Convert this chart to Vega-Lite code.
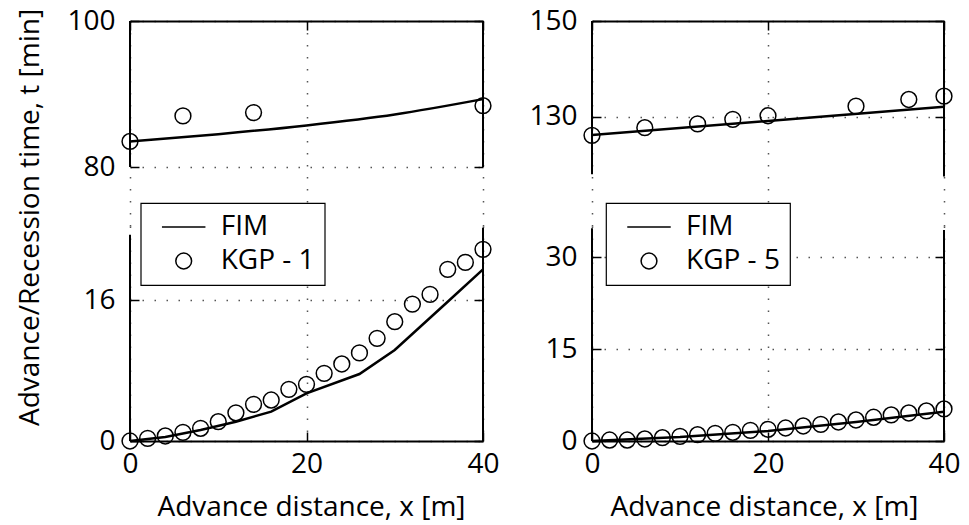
{
  "$schema": "https://vega.github.io/schema/vega-lite/v6.json",
  "background": "white",
  "padding": {"left": 15, "top": 7, "right": 5, "bottom": 90},
  "columns": 2,
  "spacing": {"row": 0, "column": 109},
  "bounds": "flush",
  "resolve": {"scale": {"shape": "independent"}, "legend": {"shape": "independent"}},
  "datasets": {
    "fim1u": [{"x": 0, "t": 83.5}, {"x": 10, "t": 84.5}, {"x": 20, "t": 85.7}, {"x": 30, "t": 87.2}, {"x": 40, "t": 89.3}],
    "kgp1u": [{"x": 0, "t": 83.5}, {"x": 6, "t": 87.0}, {"x": 14, "t": 87.45}, {"x": 40, "t": 88.4}],
    "fim1l": [{"x": 0, "t": 0}, {"x": 4, "t": 0.45}, {"x": 8, "t": 1.25}, {"x": 12, "t": 2.19}, {"x": 16, "t": 3.33}, {"x": 20, "t": 5.41}, {"x": 26, "t": 7.6}, {"x": 30, "t": 10.33}, {"x": 36, "t": 15.8}, {"x": 40, "t": 19.48}],
    "kgp1l": [
      {"x": 0, "t": 0, "series": "KGP - 1"}, {"x": 2, "t": 0.3, "series": "KGP - 1"}, {"x": 4, "t": 0.57, "series": "KGP - 1"},
      {"x": 6, "t": 0.98, "series": "KGP - 1"}, {"x": 8, "t": 1.44, "series": "KGP - 1"}, {"x": 10, "t": 2.19, "series": "KGP - 1"},
      {"x": 12, "t": 3.2, "series": "KGP - 1"}, {"x": 14, "t": 4.16, "series": "KGP - 1"}, {"x": 16, "t": 4.65, "series": "KGP - 1"},
      {"x": 18, "t": 5.86, "series": "KGP - 1"}, {"x": 20, "t": 6.43, "series": "KGP - 1"}, {"x": 22, "t": 7.68, "series": "KGP - 1"},
      {"x": 24, "t": 8.74, "series": "KGP - 1"}, {"x": 26, "t": 10.0, "series": "KGP - 1"}, {"x": 28, "t": 11.65, "series": "KGP - 1"},
      {"x": 30, "t": 13.54, "series": "KGP - 1"}, {"x": 32, "t": 15.54, "series": "KGP - 1"}, {"x": 34, "t": 16.64, "series": "KGP - 1"},
      {"x": 36, "t": 19.48, "series": "KGP - 1"}, {"x": 38, "t": 20.27, "series": "KGP - 1"}, {"x": 40, "t": 21.75, "series": "KGP - 1"}
    ],
    "fim5u": [{"x": 0, "t": 126.2}, {"x": 20, "t": 129.1}, {"x": 40, "t": 132.1}],
    "kgp5u": [{"x": 0, "t": 126.1}, {"x": 6, "t": 127.7}, {"x": 12, "t": 128.5}, {"x": 16, "t": 129.45}, {"x": 20, "t": 130.2}, {"x": 30, "t": 132.2}, {"x": 36, "t": 133.6}, {"x": 40, "t": 134.3}],
    "fim5l": [{"x": 0, "t": 0}, {"x": 10, "t": 0.65}, {"x": 20, "t": 1.63}, {"x": 30, "t": 3.1}, {"x": 40, "t": 4.79}],
    "kgp5l": [
      {"x": 0, "t": 0, "series": "KGP - 5"}, {"x": 2, "t": 0.16, "series": "KGP - 5"}, {"x": 4, "t": 0.16, "series": "KGP - 5"},
      {"x": 6, "t": 0.33, "series": "KGP - 5"}, {"x": 8, "t": 0.54, "series": "KGP - 5"}, {"x": 10, "t": 0.76, "series": "KGP - 5"},
      {"x": 12, "t": 1.03, "series": "KGP - 5"}, {"x": 14, "t": 1.25, "series": "KGP - 5"}, {"x": 16, "t": 1.42, "series": "KGP - 5"},
      {"x": 18, "t": 1.74, "series": "KGP - 5"}, {"x": 20, "t": 1.91, "series": "KGP - 5"}, {"x": 22, "t": 2.12, "series": "KGP - 5"},
      {"x": 24, "t": 2.45, "series": "KGP - 5"}, {"x": 26, "t": 2.72, "series": "KGP - 5"}, {"x": 28, "t": 3.1, "series": "KGP - 5"},
      {"x": 30, "t": 3.43, "series": "KGP - 5"}, {"x": 32, "t": 3.87, "series": "KGP - 5"}, {"x": 34, "t": 4.25, "series": "KGP - 5"},
      {"x": 36, "t": 4.57, "series": "KGP - 5"}, {"x": 38, "t": 4.9, "series": "KGP - 5"}, {"x": 40, "t": 5.23, "series": "KGP - 5"}
    ]
  },
  "concat": [
    {
      "width": 353, "height": 205,
      "layer": [
        {"data": {"values": [{}]}, "mark": {"type": "rule", "stroke": "black", "strokeWidth": 2},
         "encoding": {
           "x": {"datum": 0, "type": "quantitative", "scale": {"domain": [0, 40], "nice": false}, "axis": {"orient": "top", "values": [0, 20, 40], "title": null}},
           "y": {"datum": 80, "type": "quantitative", "scale": {"domain": [71.92, 100], "nice": false, "zero": false},
                 "axis": {"orient": "left", "values": [80, 100], "title": "Advance/Recession time, t [min]", "titleX": -92, "titleY": 196, "titleAngle": -90, "titleBaseline": "alphabetic", "titleAlign": "center"}},
           "y2": {"datum": 100}}},
        {"data": {"values": [{}]}, "mark": {"type": "rule", "stroke": "black", "strokeWidth": 2},
         "encoding": {
           "x": {"datum": 40, "type": "quantitative", "scale": {"domain": [0, 40], "nice": false}},
           "y": {"datum": 80, "type": "quantitative", "scale": {"domain": [71.92, 100], "nice": false, "zero": false}, "axis": {"orient": "right", "values": [80, 100], "title": null}},
           "y2": {"datum": 100}}},
        {"data": {"name": "fim1u"}, "mark": {"type": "line", "stroke": "black", "strokeWidth": 2.5, "interpolate": "monotone"},
         "encoding": {
           "x": {"field": "x", "type": "quantitative", "title": null, "scale": {"domain": [0, 40], "nice": false}},
           "y": {"field": "t", "type": "quantitative", "axis": null, "scale": {"domain": [71.92, 100], "nice": false, "zero": false}}}},
        {"data": {"name": "kgp1u"}, "mark": {"type": "point", "shape": "circle", "filled": false, "stroke": "black", "strokeWidth": 1.5, "size": 250, "opacity": 1},
         "encoding": {
           "x": {"field": "x", "type": "quantitative", "title": null, "scale": {"domain": [0, 40], "nice": false}},
           "y": {"field": "t", "type": "quantitative", "axis": null, "scale": {"domain": [71.92, 100], "nice": false, "zero": false}}}}
      ],
      "resolve": {"axis": {"y": "independent"}}
    },
    {
      "width": 352, "height": 205,
      "layer": [
        {"data": {"values": [{}]}, "mark": {"type": "rule", "stroke": "black", "strokeWidth": 2},
         "encoding": {
           "x": {"datum": 0, "type": "quantitative", "scale": {"domain": [0, 40], "nice": false}, "axis": {"orient": "top", "values": [0, 20, 40], "title": null}},
           "y": {"datum": 118, "type": "quantitative", "scale": {"domain": [107.16, 150], "nice": false, "zero": false}, "axis": {"orient": "left", "values": [130, 150], "title": null}},
           "y2": {"datum": 150}}},
        {"data": {"values": [{}]}, "mark": {"type": "rule", "stroke": "black", "strokeWidth": 2},
         "encoding": {
           "x": {"datum": 40, "type": "quantitative", "scale": {"domain": [0, 40], "nice": false}},
           "y": {"datum": 117.5, "type": "quantitative", "scale": {"domain": [107.16, 150], "nice": false, "zero": false}, "axis": {"orient": "right", "values": [130, 150], "title": null}},
           "y2": {"datum": 150}}},
        {"data": {"name": "fim5u"}, "mark": {"type": "line", "stroke": "black", "strokeWidth": 2.5},
         "encoding": {
           "x": {"field": "x", "type": "quantitative", "title": null, "scale": {"domain": [0, 40], "nice": false}},
           "y": {"field": "t", "type": "quantitative", "axis": null, "scale": {"domain": [107.16, 150], "nice": false, "zero": false}}}},
        {"data": {"name": "kgp5u"}, "mark": {"type": "point", "shape": "circle", "filled": false, "stroke": "black", "strokeWidth": 1.5, "size": 250, "opacity": 1},
         "encoding": {
           "x": {"field": "x", "type": "quantitative", "title": null, "scale": {"domain": [0, 40], "nice": false}},
           "y": {"field": "t", "type": "quantitative", "axis": null, "scale": {"domain": [107.16, 150], "nice": false, "zero": false}}}}
      ],
      "resolve": {"axis": {"y": "independent"}}
    },
    {
      "width": 353, "height": 215,
      "layer": [
        {"data": {"values": [{}]}, "mark": {"type": "rule", "stroke": "black", "strokeWidth": 2},
         "encoding": {
           "x": {"datum": 0, "type": "quantitative", "title": "Advance distance, x [m]", "scale": {"domain": [0, 40], "nice": false}, "axis": {"orient": "bottom", "values": [0, 20, 40], "title": "Advance distance, x [m]", "titleX": 181, "titleY": 74, "titleBaseline": "alphabetic"}},
           "y": {"datum": 0, "type": "quantitative", "scale": {"domain": [0, 24.4], "nice": false}, "axis": {"orient": "left", "values": [0, 16], "title": null}},
           "y2": {"datum": 23.4}}},
        {"data": {"values": [{}]}, "mark": {"type": "rule", "stroke": "black", "strokeWidth": 2},
         "encoding": {
           "x": {"datum": 40, "type": "quantitative", "title": "Advance distance, x [m]", "scale": {"domain": [0, 40], "nice": false}},
           "y": {"datum": 0, "type": "quantitative", "scale": {"domain": [0, 24.4], "nice": false}, "axis": {"orient": "right", "values": [0, 16], "title": null}},
           "y2": {"datum": 24.2}}},
        {"data": {"name": "fim1l"}, "mark": {"type": "line", "stroke": "black", "strokeWidth": 2.5},
         "encoding": {
           "x": {"field": "x", "type": "quantitative", "title": "Advance distance, x [m]", "scale": {"domain": [0, 40], "nice": false}},
           "y": {"field": "t", "type": "quantitative", "axis": null, "scale": {"domain": [0, 24.4], "nice": false}}}},
        {"data": {"name": "kgp1l"}, "mark": {"type": "point", "filled": false, "stroke": "black", "strokeWidth": 1.5, "size": 250, "opacity": 1},
         "encoding": {
           "x": {"field": "x", "type": "quantitative", "title": "Advance distance, x [m]", "scale": {"domain": [0, 40], "nice": false}},
           "y": {"field": "t", "type": "quantitative", "axis": null, "scale": {"domain": [0, 24.4], "nice": false}},
           "shape": {"field": "series", "type": "nominal", "scale": {"domain": ["FIM", "KGP - 1"], "range": ["M-2.75,0H2.75", "circle"]},
                     "legend": {"orient": "none", "legendX": 10.7, "legendY": -23, "title": null}}}}
      ],
      "resolve": {"axis": {"y": "independent"}}
    },
    {
      "width": 352, "height": 215,
      "layer": [
        {"data": {"values": [{}]}, "mark": {"type": "rule", "stroke": "black", "strokeWidth": 2},
         "encoding": {
           "x": {"datum": 0, "type": "quantitative", "title": "Advance distance, x [m]", "scale": {"domain": [0, 40], "nice": false}, "axis": {"orient": "bottom", "values": [0, 20, 40], "title": "Advance distance, x [m]", "titleX": 172, "titleY": 74, "titleBaseline": "alphabetic"}},
           "y": {"datum": 0, "type": "quantitative", "scale": {"domain": [0, 35.07], "nice": false}, "axis": {"orient": "left", "values": [0, 15, 30], "title": null}},
           "y2": {"datum": 34.7}}},
        {"data": {"values": [{}]}, "mark": {"type": "rule", "stroke": "black", "strokeWidth": 2},
         "encoding": {
           "x": {"datum": 40, "type": "quantitative", "title": "Advance distance, x [m]", "scale": {"domain": [0, 40], "nice": false}},
           "y": {"datum": 0, "type": "quantitative", "scale": {"domain": [0, 35.07], "nice": false}, "axis": {"orient": "right", "values": [0, 15, 30], "title": null}},
           "y2": {"datum": 34.4}}},
        {"data": {"name": "fim5l"}, "mark": {"type": "line", "stroke": "black", "strokeWidth": 2.5},
         "encoding": {
           "x": {"field": "x", "type": "quantitative", "title": "Advance distance, x [m]", "scale": {"domain": [0, 40], "nice": false}},
           "y": {"field": "t", "type": "quantitative", "axis": null, "scale": {"domain": [0, 35.07], "nice": false}}}},
        {"data": {"name": "kgp5l"}, "mark": {"type": "point", "filled": false, "stroke": "black", "strokeWidth": 1.5, "size": 250, "opacity": 1},
         "encoding": {
           "x": {"field": "x", "type": "quantitative", "title": "Advance distance, x [m]", "scale": {"domain": [0, 40], "nice": false}},
           "y": {"field": "t", "type": "quantitative", "axis": null, "scale": {"domain": [0, 35.07], "nice": false}},
           "shape": {"field": "series", "type": "nominal", "scale": {"domain": ["FIM", "KGP - 5"], "range": ["M-2.75,0H2.75", "circle"]},
                     "legend": {"orient": "none", "legendX": 14, "legendY": -23, "title": null}}}}
      ],
      "resolve": {"axis": {"y": "independent"}}
    }
  ],
  "config": {
    "view": {"stroke": null},
    "axis": {
      "domainColor": "black", "domainWidth": 2,
      "tickColor": "black", "tickWidth": 1.5, "tickSize": -9,
      "grid": true, "gridColor": "#555", "gridDash": [1.5, 10.5], "gridWidth": 1.5,
      "labelFont": "Open Sans", "labelFontSize": 28, "labelColor": "black", "labelFlush": false, "labelOverlap": false,
      "titleFont": "Open Sans", "titleFontSize": 28, "titleFontWeight": "normal", "titleColor": "black"
    },
    "axisLeft": {"domain": false, "labelPadding": 24},
    "axisRight": {"domain": false, "labels": false, "grid": false},
    "axisTop": {"labels": false},
    "axisBottom": {"labelPadding": 18},
    "legend": {
      "labelFont": "Open Sans", "labelFontSize": 28, "labelColor": "black",
      "strokeColor": "black", "strokeWidth": 1.2, "fillColor": "white",
      "padding": 10, "rowPadding": 6,
      "symbolStrokeWidth": 1.5, "symbolStrokeColor": "black", "symbolFillColor": "transparent", "symbolSize": 250,
      "symbolOffset": 19, "labelOffset": 23
    }
  }
}
